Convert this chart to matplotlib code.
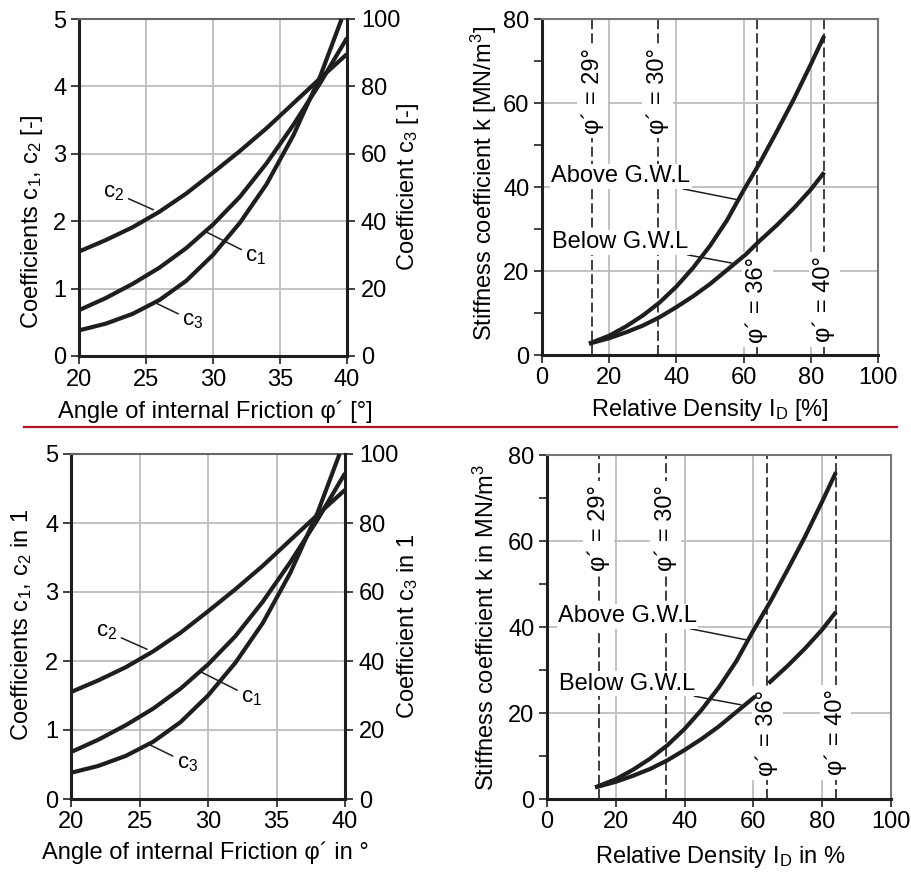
import matplotlib
matplotlib.use('agg')
import matplotlib.pyplot as plt
from matplotlib.lines import Line2D

plt.rcParams['font.family'] = ['Liberation Sans', 'DejaVu Sans']
plt.rcParams['mathtext.fontset'] = 'custom'
plt.rcParams['mathtext.rm'] = 'Liberation Sans'
plt.rcParams['mathtext.it'] = 'Liberation Sans'
plt.rcParams['mathtext.default'] = 'regular'

# coefficients vs friction angle
phi = [20, 22, 24, 26, 28, 30, 32, 34, 36, 38, 40]
c1 = [0.68, 0.86, 1.07, 1.31, 1.60, 1.95, 2.36, 2.86, 3.43, 4.05, 4.72]
c2 = [1.55, 1.72, 1.91, 2.14, 2.41, 2.72, 3.04, 3.38, 3.75, 4.12, 4.48]
phi3 = [20, 22, 24, 26, 28, 30, 32, 34, 36, 38, 39.6]
c3 = [7.6, 9.6, 12.5, 16.6, 22.3, 30.0, 39.5, 51.0, 65.5, 83.0, 100.0]

# stiffness vs relative density
dens = [14, 20, 25, 30, 35, 40, 45, 50, 55, 60, 65, 70, 75, 80, 84]
above = [2.7, 4.6, 6.8, 9.4, 12.5, 16.3, 20.8, 26.0, 32.0, 39.2, 46.0, 53.4, 61.0, 69.2, 76.0]
dens_b = [14, 20, 25, 30, 35, 40, 45, 50, 55, 60.6, 64.4, 70, 75, 80, 84]
below = [2.7, 4.0, 5.4, 7.0, 9.0, 11.4, 14.0, 16.9, 20.2, 23.9, 26.9, 31.0, 35.0, 39.4, 43.5]
phi_lines = [15, 34.5, 64, 84]
phi_names = ['29°', '30°', '36°', '40°']

W, H = 911, 875
fig = plt.figure(figsize=(W / 100, H / 100), dpi=100)

FS = 17
CURVE = dict(color='#1e1e1e', lw=3, solid_capstyle='butt', zorder=5)
GRID = '#bdbdbd'


def px_rect(l, r, t, b):
    return [l / W, 1 - b / H, (r - l) / W, (b - t) / H]


def style_ticks(ax):
    ax.tick_params(which='both', direction='out', length=6, width=1.3,
                   color='#333333', labelsize=FS, pad=3)


def coef_panel(rect, ylab, y3lab, xlab, coords):
    ax = fig.add_axes(rect)
    ax.set_xlim(20, 40)
    ax.set_ylim(0, 5)
    ax.set_xticks([20, 25, 30, 35, 40])
    ax.set_yticks([0, 1, 2, 3, 4, 5])
    ax.grid(True, color=GRID, lw=1.3, zorder=0)
    ax.set_axisbelow(True)
    for s in ['left', 'bottom']:
        ax.spines[s].set_linewidth(2.2)
        ax.spines[s].set_color('#1e1e1e')
    ax.spines['top'].set_color('#666666')
    ax.spines['top'].set_linewidth(1.5)
    ax.spines['right'].set_visible(False)
    style_ticks(ax)
    ax.plot(phi, c1, **CURVE)
    ax.plot(phi, c2, **CURVE)

    ax3 = ax.twinx()
    ax3.set_ylim(0, 100)
    ax3.set_yticks([0, 20, 40, 60, 80, 100])
    for s in ['left', 'bottom', 'top']:
        ax3.spines[s].set_visible(False)
    ax3.spines['right'].set_linewidth(2.2)
    ax3.spines['right'].set_color('#1e1e1e')
    style_ticks(ax3)
    ax3.tick_params(pad=4)
    ax3.plot(phi3, c3, clip_on=False, **CURVE)

    ax.set_ylabel(ylab, fontsize=FS, va='center')
    ax.yaxis.set_label_coords(*coords[0])
    ax3.set_ylabel(y3lab, fontsize=FS, va='center')
    ax3.yaxis.set_label_coords(*coords[1])
    ax.set_xlabel(xlab, fontsize=FS, va='center')
    ax.xaxis.set_label_coords(*coords[2])

    lead = dict(arrowstyle='-', lw=1.1, color='#1e1e1e', shrinkA=1, shrinkB=0)
    ax.annotate('$c_2$', xy=(25.55, 2.17), xytext=(22.6, 2.43), fontsize=16,
                ha='center', va='center', arrowprops=lead, zorder=6)
    ax.annotate('$c_1$', xy=(29.4, 1.85), xytext=(33.2, 1.47), fontsize=16,
                ha='center', va='center', arrowprops=lead, zorder=6)
    ax.annotate('$c_3$', xy=(25.8, 0.78), xytext=(28.5, 0.52), fontsize=16,
                ha='center', va='center', arrowprops=lead, zorder=6)
    return ax


def stiff_panel(rect, ylab, xlab, coords, lab_y, split):
    ax = fig.add_axes(rect)
    ax.set_xlim(0, 100)
    ax.set_ylim(0, 80)
    ax.set_xticks([0, 20, 40, 60, 80, 100])
    ax.set_yticks([0, 20, 40, 60, 80])
    ax.set_yticks([10, 30, 50, 70], minor=True)
    ax.grid(True, which='major', color=GRID, lw=1.3, zorder=0)
    ax.set_axisbelow(True)
    for s in ['left', 'bottom']:
        ax.spines[s].set_linewidth(2.2)
        ax.spines[s].set_color('#1e1e1e')
    for s in ['top', 'right']:
        ax.spines[s].set_linewidth(1.5)
        ax.spines[s].set_color('#777777')
    style_ticks(ax)

    for x, name, y in zip(phi_lines, phi_names, lab_y):
        ax.axvline(x, color='#1e1e1e', lw=1.2, ls=(0, (6, 2.5)), zorder=2)
        ax.text(x, y, 'φ´ = ' + name, rotation=90, fontsize=FS, ha='center',
                va='center', zorder=4,
                bbox=dict(fc='white', ec='none', pad=3))

    ax.plot(dens, above, **CURVE)
    if split:
        n = dens_b.index(60.6) + 1
        ax.plot(dens_b[:n], below[:n], **CURVE)
        ax.plot(dens_b[n:], below[n:], **CURVE)
    else:
        ax.plot(dens_b, below, **CURVE)

    lead = dict(arrowstyle='-', lw=1.1, color='#1e1e1e', shrinkA=0, shrinkB=0)
    ax.annotate('Above G.W.L', xy=(58, 37.0), xytext=(23.4, 42.5), fontsize=FS,
                ha='center', va='center', arrowprops=lead, zorder=6,
                bbox=dict(fc='white', ec='none', pad=1))
    ax.annotate('Below G.W.L', xy=(56.4, 21.9), xytext=(23.4, 26.8), fontsize=FS,
                ha='center', va='center', arrowprops=lead, zorder=6,
                bbox=dict(fc='white', ec='none', pad=1))

    ax.set_ylabel(ylab, fontsize=FS, va='center')
    ax.yaxis.set_label_coords(*coords[0])
    ax.set_xlabel(xlab, fontsize=FS, va='center')
    ax.xaxis.set_label_coords(*coords[1])
    return ax


coef_panel(px_rect(79, 347, 19, 356),
           'Coefficients $c_1$, $c_2$ [-]', 'Coefficient $c_3$ [-]',
           'Angle of internal Friction φ´ [°]',
           [(-0.175, 0.40), (1.228, 0.5), (0.51, -0.165)])
stiff_panel(px_rect(542, 878, 19, 355),
            'Stiffness coefficient k [MN/m$^3$]', 'Relative Density $I_D$ [%]',
            [(-0.173, 0.51), (0.50, -0.165)], [62.8, 62.8, 13.2, 13.2], False)
coef_panel(px_rect(71, 345, 454, 799),
           'Coefficients $c_1$, $c_2$ in 1', 'Coefficient $c_3$ in 1',
           'Angle of internal Friction φ´ in °',
           [(-0.179, 0.504), (1.23, 0.5), (0.49, -0.157)])
stiff_panel(px_rect(547, 891, 455, 799),
            'Stiffness coefficient k in MN/m$^3$', 'Relative Density $I_D$ in %',
            [(-0.177, 0.50), (0.503, -0.169)], [63, 63, 15.3, 15.5], True)

fig.add_artist(Line2D([24 / W, 897 / W], [1 - 427 / H, 1 - 427 / H],
                      color='#b5122e', lw=1.6))

fig.savefig('out.png', dpi=100)
